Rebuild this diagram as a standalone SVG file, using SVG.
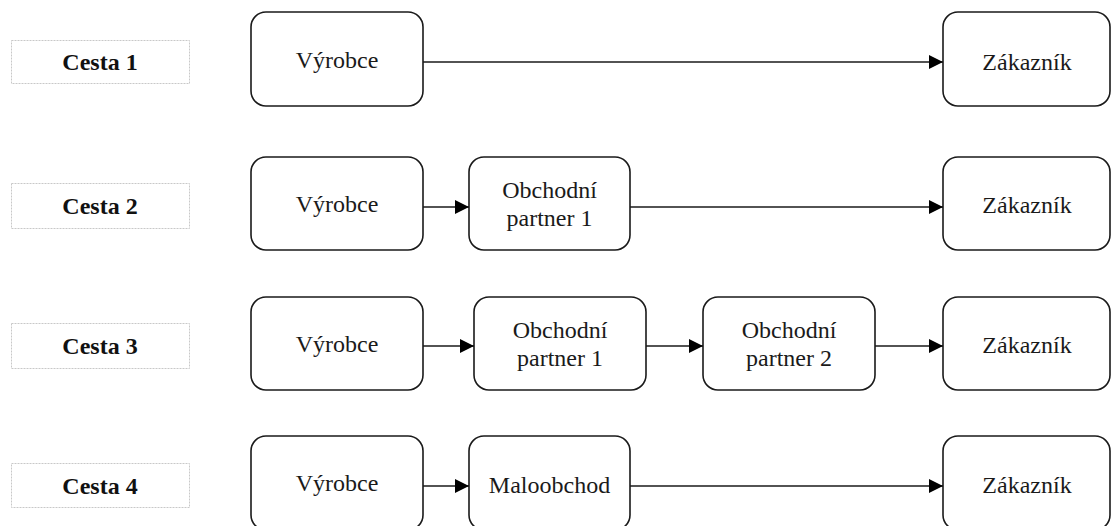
<svg xmlns="http://www.w3.org/2000/svg" width="1112" height="526" viewBox="0 0 1112 526">
<style>
.lbl{fill:#fff;stroke:#c8c8c8;stroke-width:1;stroke-dasharray:2 1}
.lt{font-family:"Liberation Serif","Times New Roman",serif;font-weight:bold;font-size:24px;fill:#111;text-anchor:middle}
.box{fill:#fff;stroke:#1a1a1a;stroke-width:1.6}
.t{font-family:"Liberation Serif","Times New Roman",serif;font-size:24px;fill:#1a1a1a;text-anchor:middle}
.c{stroke:#1a1a1a;stroke-width:1.6;fill:none;marker-end:url(#ah)}
</style>
<defs>
<marker id="ah" markerUnits="userSpaceOnUse" markerWidth="15" markerHeight="14" refX="14" refY="7" orient="auto">
<path d="M0,0 L14,7 L0,14 Z" fill="#000"/>
</marker>
</defs>
<rect width="1112" height="526" fill="#fff"/>

<g id="label1"><rect class="lbl" x="11.5" y="40.5" width="178" height="43"/><text class="lt" x="100" y="70">Cesta 1</text></g>
<g id="label2"><rect class="lbl" x="11.5" y="183.5" width="178" height="45"/><text class="lt" x="100" y="214">Cesta 2</text></g>
<g id="label3"><rect class="lbl" x="11.5" y="323.5" width="178" height="45"/><text class="lt" x="100" y="354">Cesta 3</text></g>
<g id="label4"><rect class="lbl" x="11.5" y="463.5" width="178" height="44"/><text class="lt" x="100" y="494">Cesta 4</text></g>

<g id="r1-vyrobce"><rect class="box" x="251" y="12" width="172" height="94" rx="15"/><text class="t" x="337" y="68">Výrobce</text></g>
<g id="r1-zakaznik"><rect class="box" x="943" y="12" width="167" height="94" rx="15"/><text class="t" x="1027" y="70">Zákazník</text></g>

<g id="r2-vyrobce"><rect class="box" x="251" y="157" width="172" height="93" rx="15"/><text class="t" x="337" y="212">Výrobce</text></g>
<g id="r2-partner1"><rect class="box" x="469" y="157" width="161" height="93" rx="15"/><text class="t" x="549.5" y="198">Obchodní</text><text class="t" x="549.5" y="226">partner 1</text></g>
<g id="r2-zakaznik"><rect class="box" x="943" y="157" width="167" height="93" rx="15"/><text class="t" x="1027" y="213">Zákazník</text></g>

<g id="r3-vyrobce"><rect class="box" x="251" y="297" width="172" height="93" rx="15"/><text class="t" x="337" y="352">Výrobce</text></g>
<g id="r3-partner1"><rect class="box" x="474" y="297" width="172" height="93" rx="15"/><text class="t" x="560" y="338">Obchodní</text><text class="t" x="560" y="366">partner 1</text></g>
<g id="r3-partner2"><rect class="box" x="703" y="297" width="172" height="93" rx="15"/><text class="t" x="789" y="338">Obchodní</text><text class="t" x="789" y="366">partner 2</text></g>
<g id="r3-zakaznik"><rect class="box" x="943" y="297" width="167" height="93" rx="15"/><text class="t" x="1027" y="353">Zákazník</text></g>

<g id="r4-vyrobce"><rect class="box" x="251" y="436" width="172" height="94" rx="15"/><text class="t" x="337" y="491">Výrobce</text></g>
<g id="r4-maloobchod"><rect class="box" x="469" y="436" width="161" height="94" rx="15"/><text class="t" x="549.5" y="493">Maloobchod</text></g>
<g id="r4-zakaznik"><rect class="box" x="943" y="436" width="167" height="94" rx="15"/><text class="t" x="1027" y="493">Zákazník</text></g>

<g id="connectors">
<line class="c" x1="423" y1="62" x2="943" y2="62"/>
<line class="c" x1="423" y1="207" x2="469" y2="207"/>
<line class="c" x1="630" y1="207" x2="943" y2="207"/>
<line class="c" x1="423" y1="346" x2="474" y2="346"/>
<line class="c" x1="646" y1="346" x2="703" y2="346"/>
<line class="c" x1="875" y1="346" x2="943" y2="346"/>
<line class="c" x1="423" y1="486" x2="469" y2="486"/>
<line class="c" x1="630" y1="486" x2="943" y2="486"/>
</g>
</svg>
